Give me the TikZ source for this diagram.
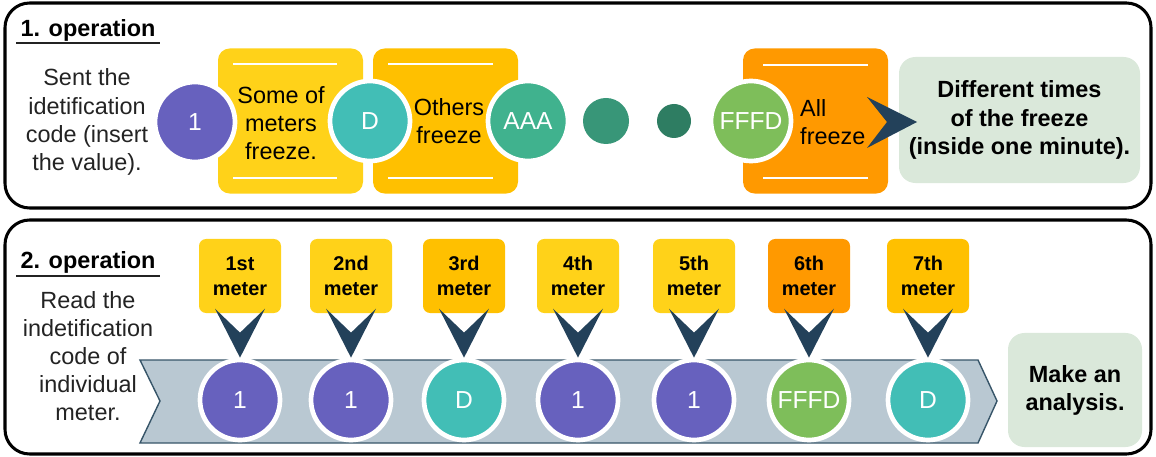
\documentclass[tikz,border=0pt]{standalone}
\usepackage{fontspec}
\setmainfont{Liberation Sans}
\usetikzlibrary{positioning}

\definecolor{idpurple}{RGB}{103,97,190}
\definecolor{idteal}{RGB}{66,190,182}
\definecolor{idgreen}{RGB}{64,178,142}
\definecolor{iddark}{RGB}{56,150,120}
\definecolor{iddarker}{RGB}{46,125,98}
\definecolor{idlime}{RGB}{126,190,90}
\definecolor{tagyellow}{RGB}{255,210,25}
\definecolor{tagamber}{RGB}{255,192,0}
\definecolor{tagorange}{RGB}{255,153,0}
\definecolor{resultbg}{RGB}{218,232,218}
\definecolor{chevron}{RGB}{35,65,90}
\definecolor{bandfill}{RGB}{185,200,210}
\definecolor{bandline}{RGB}{55,85,105}
\definecolor{textgray}{RGB}{35,35,35}

\tikzstyle{panel}=[draw=black, line width=2.6pt, rounded corners=21pt]
\tikzstyle{idcode}=[circle, draw=white, line width=4pt, minimum size=2.4cm, inner sep=0pt, text=white, font=\fontsize{21}{24}\selectfont]
\tikzstyle{dot}=[circle, inner sep=0pt]
\tikzstyle{freezebox}=[rounded corners=10pt, minimum width=4.35cm, minimum height=4.35cm]
\tikzstyle{plaintext}=[align=center, text=textgray, font=\fontsize{20}{24}\selectfont, inner sep=0pt]
\tikzstyle{heading}=[text=black, font=\bfseries\fontsize{20}{24}\selectfont, inner sep=0pt]
\tikzstyle{meter}=[rounded corners=6pt, minimum width=2.46cm, minimum height=2.22cm, align=center, font=\bfseries\fontsize{17}{21}\selectfont]
\tikzstyle{result}=[fill=resultbg, rounded corners=14pt, align=center, font=\bfseries\fontsize{20}{24}\selectfont]

\begin{document}
\begin{tikzpicture}[x=0.03cm, y=-0.03cm]
\useasboundingbox (0,0) rectangle (1156,457);

% frames
\draw[panel] (5,3) rectangle (1151,208);
\draw[panel] (5,220) rectangle (1151,454);

% 1. operation
\node[heading](h1) at (88,30) {1. operation};
\draw[line width=1.4pt, textgray] (16,43) -- (160,43);
\node[plaintext](send) at (87,122) {Sent the\\idetification\\code (insert\\the value).};

\node[freezebox, fill=tagyellow](f1) at (290.5,121) {};
\node[freezebox, fill=tagamber](f2) at (445.5,121) {};
\node[freezebox, fill=tagorange](f3) at (815.5,121) {};
\begin{scope}[every path/.style={draw=white, line width=1.6pt}]
       \draw (233,64) -- (337,64);
       \draw (233,178) -- (337,178);
       \draw (388,64) -- (493,64);
       \draw (388,178) -- (493,178);
       \draw (763,65) -- (868,65);
       \draw (763,178) -- (868,178);
\end{scope}

\node[plaintext, text=black](t1) at (281,123) {Some of\\meters\\freeze.};
\node[plaintext, text=black](t2) at (449,121) {Others\\freeze};
\node[plaintext, text=black, anchor=west, align=left](t3) at (800,122) {All\\freeze};

\node[idcode, fill=idpurple](a1) at (195,122) {1};
\node[idcode, fill=idteal](a2) at (370,121) {D};
\node[idcode, fill=idgreen](a3) at (528,121) {AAA};
\node[dot, fill=iddark, minimum size=1.38cm](d1) at (606,121) {};
\node[dot, fill=iddarker, minimum size=1.02cm](d2) at (674,121) {};
\node[idcode, fill=idlime](a4) at (751,121) {FFFD};

\node[result, minimum width=7.23cm, minimum height=3.78cm](res) at (1019.5,120) {Different times\\of the freeze\\(inside one minute).};
\fill[chevron] (917,122) -- (867,97) -- (887,122) -- (867,148) -- cycle;

% 2. operation
\node[heading](h2) at (88,262) {2. operation};
\draw[line width=1.4pt, textgray] (16,276) -- (160,276);
\node[plaintext](read) at (88,356) {Read the\\indetification\\code of\\individual\\meter.};

\draw[fill=bandfill, draw=bandline, line width=1.2pt] (140,360) -- (978,360) -- (997,401) -- (978,443) -- (140,443) -- (160,401) -- cycle;

\node[meter, fill=tagyellow](m1) at (240,276) {1st\\meter};
\node[meter, fill=tagyellow](m2) at (351,276) {2nd\\meter};
\node[meter, fill=tagamber](m3) at (464,276) {3rd\\meter};
\node[meter, fill=tagyellow](m4) at (578,276) {4th\\meter};
\node[meter, fill=tagyellow](m5) at (694,276) {5th\\meter};
\node[meter, fill=tagorange](m6) at (809,276) {6th\\meter};
\node[meter, fill=tagamber](m7) at (928,276) {7th\\meter};

\node[idcode, fill=idpurple](c1) at (240,400) {1};
\node[idcode, fill=idpurple](c2) at (351,400) {1};
\node[idcode, fill=idteal](c3) at (464,400) {D};
\node[idcode, fill=idpurple](c4) at (578,400) {1};
\node[idcode, fill=idpurple](c5) at (694,400) {1};
\node[idcode, fill=idlime](c6) at (809,400) {FFFD};
\node[idcode, fill=idteal](c7) at (928,400) {D};

\begin{scope}[every path/.style={fill=chevron}]
       \fill (c1.north) -- ++(-25,-49) -- ++(25,24) -- ++(25,-24) -- cycle;
       \fill (c2.north) -- ++(-25,-49) -- ++(25,24) -- ++(25,-24) -- cycle;
       \fill (c3.north) -- ++(-25,-49) -- ++(25,24) -- ++(25,-24) -- cycle;
       \fill (c4.north) -- ++(-25,-49) -- ++(25,24) -- ++(25,-24) -- cycle;
       \fill (c5.north) -- ++(-25,-49) -- ++(25,24) -- ++(25,-24) -- cycle;
       \fill (c6.north) -- ++(-25,-49) -- ++(25,24) -- ++(25,-24) -- cycle;
       \fill (c7.north) -- ++(-25,-49) -- ++(25,24) -- ++(25,-24) -- cycle;
\end{scope}

\node[result, minimum width=4.02cm, minimum height=3.42cm](ana) at (1075,390) {Make an\\analysis.};
\end{tikzpicture}
\end{document}
